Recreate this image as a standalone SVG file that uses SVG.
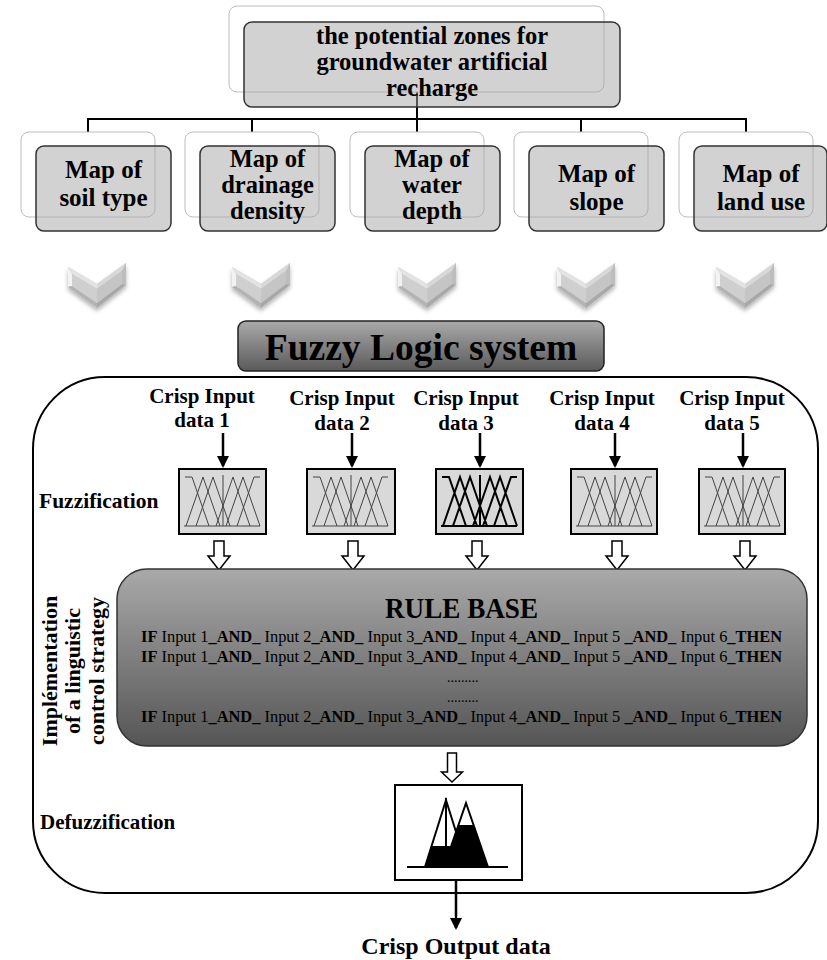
<svg xmlns="http://www.w3.org/2000/svg" xmlns:xlink="http://www.w3.org/1999/xlink" width="827" height="960" viewBox="0 0 827 960">
<style>
.t{font-family:"Liberation Serif","Times New Roman",serif;font-weight:bold;fill:#000}
.n{font-weight:normal}
.back{fill:#fff;stroke:#bdbdbd;stroke-width:1}
.front{fill:#a6a6a6;fill-opacity:.5;stroke:#333;stroke-width:1.5}
.conn{stroke:#000;stroke-width:2;fill:none}
.arr{stroke:#000;stroke-width:2.5;fill:none;marker-end:url(#ah)}
.hollow{fill:#fff;stroke:#000;stroke-width:1.5}
.fz{fill:#d9d9d9;stroke:#000;stroke-width:2}
.mfl{stroke:#444;stroke-width:1}
.mfb{stroke:#000;stroke-width:2}
</style>
<defs>
<marker id="ah" markerUnits="userSpaceOnUse" markerWidth="14" markerHeight="14" viewBox="0 0 12 14" refX="10" refY="7" orient="auto">
<path d="M0,1 L12,7 L0,13 z" fill="#000"/>
</marker>
<linearGradient id="gFL" x1="0" y1="0" x2="0" y2="1">
<stop offset="0" stop-color="#aaaaaa"/><stop offset="1" stop-color="#5a5a5a"/>
</linearGradient>
<linearGradient id="gRB" x1="0" y1="0" x2="0" y2="1">
<stop offset="0" stop-color="#a9a9a9"/><stop offset="1" stop-color="#555555"/>
</linearGradient>
<filter id="sh" x="-30%" y="-30%" width="160%" height="170%">
<feDropShadow dx="0" dy="3" stdDeviation="2" flood-color="#000" flood-opacity="0.3"/>
</filter>
<g id="chev">
<polygon points="-29,4 0,21 29,0 29,22 0,45 -29,24" fill="#c4c4c4" filter="url(#sh)"/>
<polygon points="-29,4 -25,11 -25,23 -29,24" fill="#f2f2f2"/>
<polygon points="-29,4 0,21 0,26 -25,11" fill="#e3e3e3"/>
<polygon points="0,21 29,0 25,8 0,26" fill="#d8d8d8"/>
<polygon points="29,0 29,22 25,21 25,8" fill="#bdbdbd"/>
<polygon points="-29,24 -25,23 0,40 0,45" fill="#b3b3b3"/>
<polygon points="0,45 0,40 25,21 29,22" fill="#a8a8a8"/>
<polygon points="-25,11 0,26 0,40 -25,23" fill="#cfcfcf"/>
<polygon points="0,26 25,8 25,21 0,40" fill="#c5c5c5"/>
</g>
<symbol id="mf" viewBox="0 0 87 65">
<path fill="none" d="M6,8 H13 L30,57 M81,8 H75 L58,57 M7,57 L24,8 L41,57 M17,57 L34,8 L51,57 M37,57 L54,8 L71,57 M47,57 L64,8 L81,57 M44,6 V57 M5,57 H81"/>
</symbol>
</defs>

<!-- container -->
<g id="fls-container">
<rect x="33" y="377" width="785" height="516" rx="72" ry="72" fill="none" stroke="#000" stroke-width="2"/>
</g>

<g id="connectors">
<line class="conn" x1="417" y1="92" x2="417" y2="119"/>
<line class="conn" x1="87" y1="119" x2="747" y2="119"/>
<line class="conn" x1="88" y1="119" x2="88" y2="132"/>
<line class="conn" x1="252" y1="119" x2="252" y2="132"/>
<line class="conn" x1="417" y1="119" x2="417" y2="132"/>
<line class="conn" x1="581" y1="119" x2="581" y2="132"/>
<line class="conn" x1="746" y1="119" x2="746" y2="132"/>
<use href="#chev" x="97" y="263"/>
<use href="#chev" x="261" y="263"/>
<use href="#chev" x="427" y="263"/>
<use href="#chev" x="586" y="263"/>
<use href="#chev" x="745" y="263"/>
<line class="arr" x1="223" y1="433" x2="223" y2="466"/>
<line class="arr" x1="352" y1="433" x2="352" y2="466"/>
<line class="arr" x1="480" y1="433" x2="480" y2="466"/>
<line class="arr" x1="615" y1="433" x2="615" y2="466"/>
<line class="arr" x1="743" y1="433" x2="743" y2="466"/>
<polygon class="hollow" points="214,541 224,541 224,556 230,556 219,570 208,556 214,556"/>
<polygon class="hollow" points="348,541 358,541 358,556 364,556 353,570 342,556 348,556"/>
<polygon class="hollow" points="472,541 482,541 482,556 488,556 477,570 466,556 472,556"/>
<polygon class="hollow" points="612,541 622,541 622,556 628,556 617,570 606,556 612,556"/>
<polygon class="hollow" points="740,541 750,541 750,556 756,556 745,570 734,556 740,556"/>
<polygon class="hollow" points="447.5,753 456.5,753 456.5,772 462.5,772 452,782 441.5,772 447.5,772"/>
<line class="arr" x1="456" y1="880" x2="456" y2="928"/>
</g>

<g id="goal">
<rect class="back" x="229" y="6" width="375" height="86" rx="8"/>
<rect class="front" x="244" y="22" width="376" height="85" rx="8"/>
<text class="t" font-size="24.5" text-anchor="middle"><tspan x="432" y="44">the potential zones for</tspan><tspan x="432" y="70">groundwater artificial</tspan><tspan x="432" y="96">recharge</tspan></text>
</g>

<g id="map-soil">
<rect class="back" x="21" y="132" width="134" height="85" rx="8"/>
<rect class="front" x="36" y="146" width="135" height="85" rx="8"/>
<text class="t" font-size="25" text-anchor="middle"><tspan x="103.5" y="178">Map of</tspan><tspan x="103.5" y="206">soil type</tspan></text>
</g>
<g id="map-drainage">
<rect class="back" x="185" y="132" width="134" height="85" rx="8"/>
<rect class="front" x="200" y="146" width="135" height="85" rx="8"/>
<text class="t" font-size="24.5" text-anchor="middle"><tspan x="267.5" y="167">Map of</tspan><tspan x="267.5" y="193">drainage</tspan><tspan x="267.5" y="219">density</tspan></text>
</g>
<g id="map-water">
<rect class="back" x="350" y="132" width="134" height="85" rx="8"/>
<rect class="front" x="365" y="146" width="135" height="85" rx="8"/>
<text class="t" font-size="24.5" text-anchor="middle"><tspan x="432" y="167">Map of</tspan><tspan x="432" y="193">water</tspan><tspan x="432" y="219">depth</tspan></text>
</g>
<g id="map-slope">
<rect class="back" x="514" y="132" width="134" height="85" rx="8"/>
<rect class="front" x="529" y="146" width="135" height="85" rx="8"/>
<text class="t" font-size="25" text-anchor="middle"><tspan x="596.5" y="182">Map of</tspan><tspan x="596.5" y="210">slope</tspan></text>
</g>
<g id="map-landuse">
<rect class="back" x="679" y="132" width="134" height="85" rx="8"/>
<rect class="front" x="694" y="146" width="133" height="85" rx="8"/>
<text class="t" font-size="25" text-anchor="middle"><tspan x="761" y="182">Map of</tspan><tspan x="761" y="210">land use</tspan></text>
</g>

<g id="fuzzy-logic-system">
<rect x="238" y="321" width="366" height="50" rx="8" fill="url(#gFL)" stroke="#222" stroke-width="1.5"/>
<text class="t" font-size="37.5" x="421" y="360" text-anchor="middle">Fuzzy Logic system</text>
</g>

<g id="inputs">
<text class="t" font-size="21" text-anchor="middle"><tspan x="202" y="403">Crisp Input</tspan><tspan x="202" y="427">data 1</tspan></text>
<text class="t" font-size="21" text-anchor="middle"><tspan x="342" y="405">Crisp Input</tspan><tspan x="342" y="430">data 2</tspan></text>
<text class="t" font-size="21" text-anchor="middle"><tspan x="466" y="405">Crisp Input</tspan><tspan x="466" y="430">data 3</tspan></text>
<text class="t" font-size="21" text-anchor="middle"><tspan x="602" y="405">Crisp Input</tspan><tspan x="602" y="430">data 4</tspan></text>
<text class="t" font-size="21" text-anchor="middle"><tspan x="732" y="405">Crisp Input</tspan><tspan x="732" y="430">data 5</tspan></text>
</g>

<g id="fuzzification">
<text class="t" font-size="21.5" x="39" y="508">Fuzzification</text>
<rect class="fz" x="179" y="469" width="87" height="65"/>
<use href="#mf" x="179" y="469" width="87" height="65" class="mfl"/>
<rect class="fz" x="307" y="469" width="88" height="65"/>
<use href="#mf" x="307" y="469" width="87" height="65" class="mfl"/>
<rect class="fz" x="436" y="469" width="87" height="65"/>
<use href="#mf" x="436" y="469" width="87" height="65" class="mfb"/>
<rect class="fz" x="571" y="469" width="86" height="65"/>
<use href="#mf" x="571" y="469" width="87" height="65" class="mfl"/>
<rect class="fz" x="699" y="469" width="86" height="65"/>
<use href="#mf" x="699" y="469" width="87" height="65" class="mfl"/>
</g>

<g id="rule-base">
<text class="t" font-size="22" text-anchor="middle" transform="translate(57,671) rotate(-90)"><tspan x="0" y="0">Implémentation</tspan><tspan x="0" y="23">of a linguistic</tspan><tspan x="0" y="47">control strategy</tspan></text>
<rect x="117" y="569" width="690" height="177" rx="30" fill="url(#gRB)" stroke="#333" stroke-width="1.5"/>
<text class="t" font-size="30" x="385" y="618" textLength="153" lengthAdjust="spacingAndGlyphs">RULE BASE</text>
<text class="t" font-size="16.4" x="141" y="642" textLength="641">IF<tspan class="n"> Input 1</tspan>_AND_<tspan class="n"> Input 2</tspan>_AND_<tspan class="n"> Input 3</tspan>_AND_<tspan class="n"> Input 4</tspan>_AND_<tspan class="n"> Input 5 </tspan>_AND_<tspan class="n"> Input 6</tspan>_THEN</text>
<text class="t" font-size="16.4" x="141" y="662" textLength="641">IF<tspan class="n"> Input 1</tspan>_AND_<tspan class="n"> Input 2</tspan>_AND_<tspan class="n"> Input 3</tspan>_AND_<tspan class="n"> Input 4</tspan>_AND_<tspan class="n"> Input 5 </tspan>_AND_<tspan class="n"> Input 6</tspan>_THEN</text>
<text class="t n" font-size="14" x="447" y="682">.........</text>
<text class="t n" font-size="14" x="447" y="702">.........</text>
<text class="t" font-size="16.4" x="141" y="722" textLength="641">IF<tspan class="n"> Input 1</tspan>_AND_<tspan class="n"> Input 2</tspan>_AND_<tspan class="n"> Input 3</tspan>_AND_<tspan class="n"> Input 4</tspan>_AND_<tspan class="n"> Input 5 </tspan>_AND_<tspan class="n"> Input 6</tspan>_THEN</text>
</g>

<g id="defuzzification">
<text class="t" font-size="21" x="40" y="829">Defuzzification</text>
<rect x="395" y="785" width="127" height="95" fill="#fff" stroke="#000" stroke-width="2"/>
<polygon points="425,867 431.6,846 451,846 458,825 473.6,825 488,867" fill="#000"/>
<path d="M425,867 L446,800 L467,867 M444,867 L466,803 L488,867 M446,798 V846 M407,867 H508" fill="none" stroke="#000" stroke-width="2"/>
</g>

<g id="output">
<text class="t" font-size="24" x="456" y="954" text-anchor="middle">Crisp Output data</text>
</g>
</svg>
